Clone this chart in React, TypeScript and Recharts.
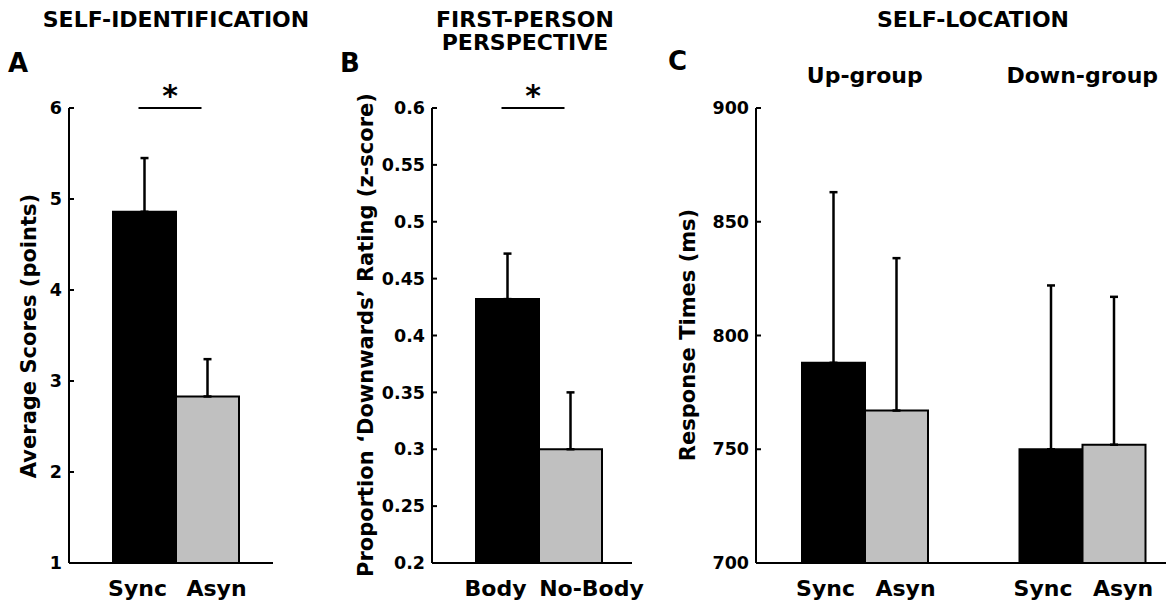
import React from 'react'
import { BarChart, Bar, XAxis, YAxis, ErrorBar, Cell, ReferenceLine, LabelList } from 'recharts'

// A - self-identification questionnaire
const idConditions = ['Sync', 'Asyn']
const idScores = [4.86, 2.83]
const idErrors = [0.59, 0.41]
const idTicks = [1, 2, 3, 4, 5, 6]

// B - first-person perspective
const perspConditions = ['Body', 'No-Body']
const perspScores = [0.432, 0.3]
const perspErrors = [0.04, 0.05]
const perspTicks = [0.2, 0.25, 0.3, 0.35, 0.4, 0.45, 0.5, 0.55, 0.6]

// C - self-location response times
const locGroups = ['Up-group', 'Down-group']
const locConditions = ['Sync', 'Asyn']
const locSync = [788, 750]
const locAsyn = [767, 752]
const locSyncErr = [75, 72]
const locAsynErr = [67, 65]
const locTicks = [700, 750, 800, 850, 900]

const FONT = '"DejaVu Sans", sans-serif'
const BLACK = '#000000'
const GREY = '#c0c0c0'
const barColors = [BLACK, GREY]

const tickStyle = { fontSize: 17.5, fontWeight: 'bold', fill: BLACK, fontFamily: FONT }
const catStyle = { fontSize: 22, fontWeight: 'bold', fill: BLACK, fontFamily: FONT }
const axisLine = { stroke: BLACK, strokeWidth: 2 }

const idData = idConditions.map((name, i) => ({ name, value: idScores[i], err: [0, idErrors[i]] }))
const perspData = perspConditions.map((name, i) => ({ name, value: perspScores[i], err: [0, perspErrors[i]] }))
const locData = locGroups.map((group, i) => ({
  group,
  sync: locSync[i],
  asyn: locAsyn[i],
  syncErr: [0, locSyncErr[i]],
  asynErr: [0, locAsynErr[i]],
  syncLabel: locConditions[0],
  asynLabel: locConditions[1],
}))

// the significance bracket sits a little left of the bar centres in the original
const SIG_SHIFT = -6

function yAxisProps(ticks: number[], width: number) {
  return {
    type: 'number' as const,
    domain: [ticks[0], ticks[ticks.length - 1]],
    ticks,
    interval: 0 as const,
    width,
    tickSize: -5,
    tickMargin: 12,
    axisLine,
    tickLine: axisLine,
    tick: tickStyle,
  }
}

const catTick = (shifts: number[]) => (p: any) => (
  <text x={p.x + shifts[p.index]} y={p.y} dy="0.72em" textAnchor="middle" {...catStyle}>
    {p.payload.value}
  </text>
)

function TwoBarPanel({ data, ticks, axisWidth, width, rightMargin, padding, labelShift }: any) {
  const top = ticks[ticks.length - 1]
  return (
    <BarChart width={width} height={608} data={data} barCategoryGap={0}
      margin={{ top: 108, right: rightMargin, bottom: 0, left: 0 }}>
      <XAxis dataKey="name" height={45} padding={padding} tickLine={false} tickSize={0} tickMargin={17}
        axisLine={axisLine} tick={catTick(labelShift)} interval={0} />
      <YAxis {...yAxisProps(ticks, axisWidth)} />
      <ReferenceLine segment={[{ x: data[0].name, y: top }, { x: data[1].name, y: top }]}
        ifOverflow="visible"
        shape={(p: any) => (
          <line x1={p.x1 + SIG_SHIFT} y1={p.y1} x2={p.x2 + SIG_SHIFT} y2={p.y2} stroke={BLACK} strokeWidth={2} />
        )}
        label={{ value: '*', position: 'top', offset: 2, dx: SIG_SHIFT, fontSize: 30, fontWeight: 'bold', fill: BLACK, fontFamily: FONT }} />
      <Bar dataKey="value" stroke={BLACK} strokeWidth={2} isAnimationActive={false}>
        {data.map((_: any, i: number) => <Cell key={i} fill={barColors[i]} />)}
        <ErrorBar dataKey="err" width={4} stroke={BLACK} strokeWidth={2.5} isAnimationActive={false} />
      </Bar>
    </BarChart>
  )
}

export default function App() {
  const txt = { fontFamily: FONT, fontWeight: 'bold' as const, fill: BLACK }
  return (
    <div style={{ position: 'absolute', left: 0, top: 0, width: 1166, height: 608, overflow: 'hidden', background: '#fff' }}>
      <div style={{ position: 'absolute', left: 0, top: 0 }}>
        <TwoBarPanel data={idData} ticks={idTicks} axisWidth={69} width={330} rightMargin={57}
          padding={{ left: 44, right: 34 }} labelShift={[-7, 9]} />
      </div>
      <div style={{ position: 'absolute', left: 330, top: 0 }}>
        <TwoBarPanel data={perspData} ticks={perspTicks} axisWidth={102} width={330} rightMargin={28}
          padding={{ left: 44, right: 30 }} labelShift={[-12, 21]} />
      </div>
      <div style={{ position: 'absolute', left: 660, top: 0 }}>
        <BarChart width={540} height={608} data={locData} barGap={0} barSize={63}
          margin={{ top: 78, right: 9, bottom: 0, left: 0 }}>
          <XAxis dataKey="group" height={45} tick={false} tickLine={false} axisLine={axisLine} />
          <XAxis dataKey="group" xAxisId="top" orientation="top" height={30} axisLine={false} tickLine={false}
            tickSize={0} tickMargin={25} tick={catStyle} interval={0} />
          <YAxis {...yAxisProps(locTicks, 96)} />
          <Bar dataKey="sync" fill={BLACK} stroke={BLACK} strokeWidth={2} isAnimationActive={false}>
            <ErrorBar dataKey="syncErr" width={4} stroke={BLACK} strokeWidth={2.5} isAnimationActive={false} />
            <LabelList dataKey="syncLabel" position="bottom" offset={17} dx={-8} {...catStyle} />
          </Bar>
          <Bar dataKey="asyn" fill={GREY} stroke={BLACK} strokeWidth={2} isAnimationActive={false}>
            <ErrorBar dataKey="asynErr" width={4} stroke={BLACK} strokeWidth={2.5} isAnimationActive={false} />
            <LabelList dataKey="asynLabel" position="bottom" offset={17} dx={9} {...catStyle} />
          </Bar>
        </BarChart>
      </div>
      <svg width={1166} height={608} style={{ position: 'absolute', left: 0, top: 0, pointerEvents: 'none' }}>
        <g {...txt} fontSize={22} textAnchor="middle">
          <text x={176} y={27}>SELF-IDENTIFICATION</text>
          <text x={525} y={27}>FIRST-PERSON</text>
          <text x={525} y={50}>PERSPECTIVE</text>
          <text x={973} y={27}>SELF-LOCATION</text>
        </g>
        <g {...txt} fontSize={26}>
          <text x={8} y={72}>A</text>
          <text x={340} y={72}>B</text>
          <text x={668} y={70}>C</text>
        </g>
        <g {...txt} fontSize={21} textAnchor="middle">
          <text transform="translate(36,336) rotate(-90)">Average Scores (points)</text>
          <text transform="translate(373,335) rotate(-90)">Proportion ‘Downwards’ Rating (z-score)</text>
          <text transform="translate(695,335) rotate(-90)">Response Times (ms)</text>
        </g>
      </svg>
    </div>
  )
}
